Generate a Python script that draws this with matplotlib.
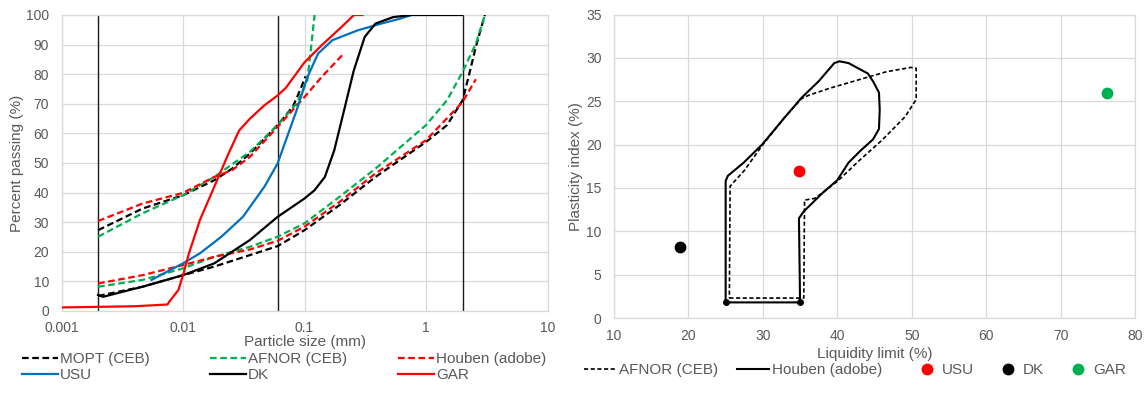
import matplotlib
matplotlib.use('Agg')
import matplotlib.pyplot as plt
from matplotlib.lines import Line2D

plt.rcParams['font.family'] = ['Liberation Sans', 'DejaVu Sans']

# ---------------- Left chart data (particle size distribution) ----------------
mopt_up_x = [0.002, 0.00464, 0.01, 0.0181, 0.0254, 0.0356, 0.06, 0.0802, 0.092, 0.102]
mopt_up_y = [27.3, 34.6, 39.1, 44.2, 48.1, 53.2, 62.8, 69.0, 74.6, 79.3]
mopt_lo_x = [0.002, 0.00464, 0.01, 0.0181, 0.0356, 0.06, 0.1, 0.1946, 0.384, 1.0, 1.49, 2.0, 2.24, 2.57, 3.05]
mopt_lo_y = [5.1, 8.2, 12.1, 15.0, 18.9, 21.9, 27.3, 35.8, 45.3, 57.1, 62.8, 71.2, 79.1, 89.2, 100.0]

afnor_up_x = [0.002, 0.00464, 0.01, 0.0181, 0.0356, 0.06, 0.0861, 0.1056, 0.1125, 0.121]
afnor_up_y = [25.1, 33.0, 39.1, 45.3, 53.8, 62.8, 70.1, 78.0, 88.0, 100.0]
afnor_lo_x = [0.002, 0.00464, 0.01, 0.0181, 0.0356, 0.06, 0.1, 0.1946, 0.384, 1.0, 1.49, 2.0, 2.57, 3.05]
afnor_lo_y = [8.2, 10.5, 14.4, 18.3, 21.7, 25.1, 29.6, 38.6, 48.1, 62.8, 71.2, 80.8, 90.3, 100.0]

houben_up_x = [0.002, 0.00464, 0.01, 0.0181, 0.0254, 0.0356, 0.06, 0.1, 0.1387, 0.204]
houben_up_y = [30.4, 36.3, 39.9, 45.3, 47.6, 52.1, 62.2, 72.3, 79.1, 86.4]
houben_lo_x = [0.002, 0.00464, 0.01, 0.0181, 0.0356, 0.06, 0.1, 0.1946, 0.384, 1.0, 2.0, 2.57]
houben_lo_y = [9.3, 12.1, 15.5, 18.3, 20.8, 23.7, 28.5, 36.9, 46.5, 57.7, 70.6, 78.3]

usu_x = [0.0055, 0.01, 0.0138, 0.0207, 0.0311, 0.0468, 0.06, 0.0703, 0.0861, 0.1056, 0.1295, 0.1699, 0.2735, 0.411, 0.617, 0.757]
usu_y = [10.5, 16.1, 19.5, 25.1, 31.8, 42.0, 49.8, 57.7, 67.8, 79.0, 87.0, 91.5, 94.8, 96.9, 98.8, 100.0]

dk_x = [0.002, 0.0022, 0.00464, 0.01, 0.0181, 0.0356, 0.06, 0.1, 0.121, 0.1471, 0.1758, 0.2085, 0.2546, 0.313, 0.384, 0.538, 0.76, 2.0]
dk_y = [5.4, 4.8, 8.2, 12.1, 16.1, 24.0, 31.8, 38.0, 40.8, 45.3, 54.3, 66.7, 81.3, 92.6, 97.1, 99.3, 100.0, 100.0]

gar_x = [0.001, 0.004, 0.00746, 0.0077, 0.00917, 0.0101, 0.0112, 0.01377, 0.0181, 0.0237, 0.029, 0.0356, 0.0468, 0.06, 0.0703, 0.1, 0.1387, 0.2085, 0.255, 0.3]
gar_y = [1.2, 1.6, 2.2, 3.1, 7.1, 12.7, 19.5, 30.7, 42.0, 53.2, 61.0, 65.0, 69.5, 72.8, 75.4, 84.0, 89.8, 96.5, 100.0, 100.0]

limit_sizes = [0.002, 0.06, 2.0]
x_ticks_left = [0.001, 0.01, 0.1, 1, 10]
x_tick_labels_left = ['0.001', '0.01', '0.1', '1', '10']

# ---------------- Right chart data (plasticity chart) ----------------
houben_ll = [25, 35, 34.85, 35.5, 38, 40, 41.5, 43, 44.8, 45.6, 45.7, 45.6, 44.8, 44.1, 42.8, 41.5, 40.3, 39.6,
             37.5, 35.2, 32.9, 29.9, 27.4, 25.3, 25, 25]
houben_pi = [1.8, 1.8, 11.5, 12.3, 14.4, 15.9, 17.9, 19.2, 20.6, 21.8, 24.0, 26.0, 27.3, 28.2, 28.8, 29.4, 29.6, 29.4,
             27.3, 25.4, 23.1, 20.0, 17.9, 16.4, 15.8, 1.8]
houben_corner_ll = [25, 35]
houben_corner_pi = [1.8, 1.8]

afnor_ll = [25.5, 35.5, 35.6, 37, 40, 43, 46, 49.1, 50.6, 50.6, 49.9, 46.6, 43, 39, 36.2, 35.2, 32.9, 30, 27.5, 25.6, 25.5]
afnor_pi = [2.3, 2.3, 13.6, 13.8, 15.75, 18.2, 20.5, 23.2, 25.2, 28.8, 28.9, 28.4, 27.5, 26.5, 25.7, 25.3, 23.1, 20.0, 17.0, 15.2, 2.3]

soil_names = ['USU', 'DK', 'GAR']
soil_ll = [34.8, 18.9, 76.3]
soil_pi = [17.0, 8.2, 26.0]
soil_colors = ['#FF0000', '#000000', '#00B050']

# ---------------- Styling ----------------
GRID = '#d9d9d9'
TXT = '#595959'
RED = '#FF0000'
GREEN = '#00B050'
BLUE = '#0070C0'
DASH = (3.0, 1.6)

fig = plt.figure(figsize=(11.48, 3.96), dpi=100)
W, H = 1148.0, 396.0
ax1 = fig.add_axes([61.5 / W, 1 - 311 / H, 486 / W, 296 / H])
ax2 = fig.add_axes([614 / W, 1 - 318 / H, 521 / W, 303.5 / H])

for ax in (ax1, ax2):
    ax.grid(True, color=GRID, lw=0.9, zorder=0)
    ax.set_axisbelow(True)
    for s in ax.spines.values():
        s.set_color(GRID)
        s.set_linewidth(0.9)
    ax.tick_params(length=0, colors=TXT, labelsize=10)
    ax.tick_params(axis='y', pad=9)
ax1.tick_params(axis='x', pad=7)
ax2.tick_params(axis='x', pad=8)

# Left chart
ax1.set_xscale('log')
ax1.set_xlim(0.001, 10)
ax1.set_ylim(0, 100)
ax1.set_xticks(x_ticks_left)
ax1.set_xticklabels(x_tick_labels_left)
ax1.minorticks_off()
ax1.set_yticks(range(0, 101, 10))

for xv in limit_sizes:
    ax1.axvline(xv, color='#1a1a1a', lw=1.0, zorder=2)

lw = 1.6
ax1.plot(mopt_up_x, mopt_up_y, color='black', lw=lw, dashes=DASH, zorder=3)
ax1.plot(mopt_lo_x, mopt_lo_y, color='black', lw=lw, dashes=DASH, zorder=3)
ax1.plot(afnor_up_x, afnor_up_y, color=GREEN, lw=lw, dashes=DASH, zorder=3)
ax1.plot(afnor_lo_x, afnor_lo_y, color=GREEN, lw=lw, dashes=DASH, zorder=3)
ax1.plot(houben_up_x, houben_up_y, color=RED, lw=lw, dashes=DASH, zorder=3)
ax1.plot(houben_lo_x, houben_lo_y, color=RED, lw=lw, dashes=DASH, zorder=3)
ax1.plot(usu_x, usu_y, color=BLUE, lw=lw, zorder=4)
ax1.plot(dk_x, dk_y, color='black', lw=lw, zorder=4)
ax1.plot(gar_x, gar_y, color=RED, lw=lw, zorder=4)

ax1.set_xlabel('Particle size (mm)', fontsize=11, color=TXT, labelpad=0)
ax1.set_ylabel('Percent passing (%)', fontsize=11, color=TXT, labelpad=1)

# Left legends (three columns of two rows)
leg_cols = [
    [('MOPT (CEB)', 'black', DASH), ('USU', BLUE, None)],
    [('AFNOR (CEB)', GREEN, DASH), ('DK', 'black', None)],
    [('Houben (adobe)', RED, DASH), ('GAR', RED, None)],
]
col_x = [22, 210, 398]
for cx, entries in zip(col_x, leg_cols):
    handles = []
    for lab, col, d in entries:
        if d is None:
            handles.append(Line2D([], [], color=col, lw=lw, label=lab))
        else:
            handles.append(Line2D([], [], color=col, lw=lw, dashes=d, label=lab))
    fig.legend(handles=handles, loc='upper left', bbox_to_anchor=(cx / W, 1 - 352 / H),
               frameon=False, fontsize=11, handlelength=2.35, handletextpad=0.15,
               labelspacing=0.15, borderpad=0, borderaxespad=0, labelcolor=TXT)

# Right chart
ax2.set_xlim(10, 80)
ax2.set_ylim(0, 35)
ax2.set_xticks(range(10, 81, 10))
ax2.set_yticks(range(0, 36, 5))

ax2.plot(afnor_ll, afnor_pi, color='black', lw=1.2, dashes=(2.5, 1.5), zorder=3)
ax2.plot(houben_ll, houben_pi, color='black', lw=1.5, zorder=3)
ax2.plot(houben_corner_ll, houben_corner_pi, 'o', color='black', ms=4, zorder=4)
for n, xv, yv, c in zip(soil_names, soil_ll, soil_pi, soil_colors):
    ax2.plot([xv], [yv], 'o', color=c, ms=7.5, zorder=5)

ax2.set_xlabel('Liquidity limit (%)', fontsize=11, color=TXT, labelpad=3)
ax2.set_ylabel('Plasticity index (%)', fontsize=11, color=TXT, labelpad=2)

line_handles = [Line2D([], [], color='black', lw=1.2, dashes=(2.5, 1.5), label='AFNOR (CEB)'),
                Line2D([], [], color='black', lw=1.5, label='Houben (adobe)')]
fig.legend(handles=line_handles, loc='upper left', bbox_to_anchor=(584 / W, 1 - 363 / H), ncol=2,
           frameon=False, fontsize=11, handlelength=2.1, handletextpad=0.2, columnspacing=1.25,
           borderpad=0, borderaxespad=0, labelcolor=TXT)
mk_handles = [Line2D([], [], ls='none', marker='o', color=c, ms=7.5, label=n)
              for n, c in zip(soil_names, soil_colors)]
fig.legend(handles=mk_handles, loc='upper left', bbox_to_anchor=(919 / W, 1 - 363 / H), ncol=3,
           frameon=False, fontsize=11, handlelength=1.0, handletextpad=0.5, columnspacing=1.7,
           borderpad=0, borderaxespad=0, labelcolor=TXT)

fig.savefig('out.png', dpi=100)
